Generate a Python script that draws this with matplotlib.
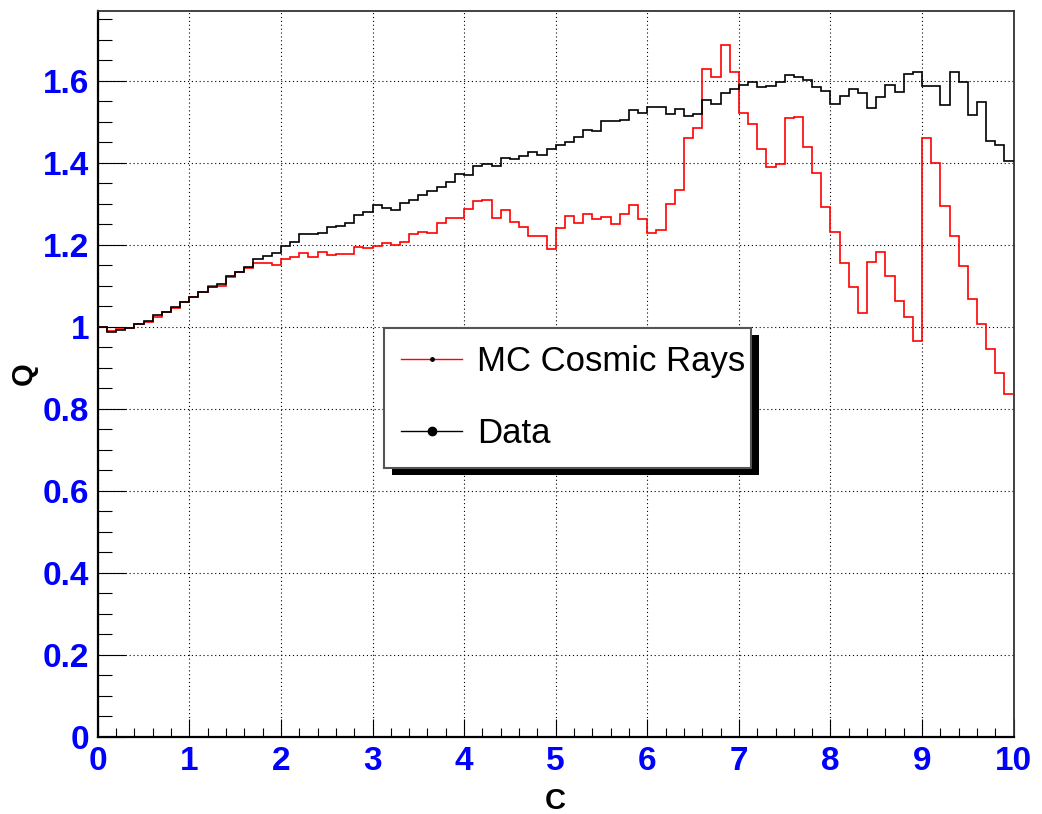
import numpy as np
import matplotlib
matplotlib.use("Agg")
import matplotlib.pyplot as plt
from matplotlib.ticker import MultipleLocator, FuncFormatter
from matplotlib.lines import Line2D
import matplotlib.patheffects as pe

# 100 bins of width 0.1 between 0 and 10
bin_edges = np.linspace(0, 10, 101)

mc_cosmic = [
    1.000, 0.990, 0.995, 0.997, 1.007, 1.011, 1.023, 1.035, 1.046, 1.061,
    1.072, 1.085, 1.100, 1.100, 1.120, 1.133, 1.144, 1.155, 1.155, 1.151,
    1.165, 1.170, 1.180, 1.170, 1.181, 1.176, 1.178, 1.178, 1.195, 1.191,
    1.198, 1.205, 1.200, 1.207, 1.225, 1.230, 1.229, 1.252, 1.264, 1.264,
    1.287, 1.306, 1.309, 1.266, 1.285, 1.256, 1.243, 1.222, 1.220, 1.190,
    1.240, 1.269, 1.254, 1.275, 1.263, 1.267, 1.250, 1.275, 1.298, 1.263,
    1.228, 1.235, 1.299, 1.333, 1.459, 1.485, 1.629, 1.610, 1.687, 1.620,
    1.521, 1.495, 1.434, 1.390, 1.398, 1.509, 1.512, 1.438, 1.374, 1.291,
    1.232, 1.156, 1.098, 1.033, 1.157, 1.181, 1.124, 1.062, 1.024, 0.965,
    1.461, 1.399, 1.294, 1.220, 1.149, 1.068, 1.007, 0.946, 0.887, 0.835,
]

data = [
    1.000, 0.986, 0.991, 0.997, 1.007, 1.015, 1.028, 1.035, 1.047, 1.061,
    1.072, 1.085, 1.097, 1.104, 1.123, 1.134, 1.145, 1.164, 1.173, 1.180,
    1.197, 1.206, 1.225, 1.225, 1.229, 1.242, 1.246, 1.253, 1.273, 1.280,
    1.296, 1.289, 1.284, 1.302, 1.310, 1.320, 1.332, 1.340, 1.353, 1.373,
    1.370, 1.391, 1.397, 1.393, 1.412, 1.410, 1.416, 1.426, 1.419, 1.434,
    1.444, 1.451, 1.463, 1.480, 1.477, 1.502, 1.502, 1.503, 1.528, 1.520,
    1.535, 1.537, 1.519, 1.532, 1.515, 1.519, 1.554, 1.544, 1.571, 1.580,
    1.589, 1.598, 1.585, 1.586, 1.598, 1.615, 1.609, 1.602, 1.585, 1.576,
    1.542, 1.562, 1.580, 1.571, 1.533, 1.559, 1.589, 1.572, 1.617, 1.620,
    1.588, 1.586, 1.540, 1.622, 1.597, 1.517, 1.547, 1.453, 1.443, 1.405,
]

labels = ["MC Cosmic Rays", "Data"]

plt.rcParams['font.family'] = ['Liberation Sans', 'DejaVu Sans']

fig = plt.figure(figsize=(10.42, 8.14), dpi=100)
ax = fig.add_axes([0.0938, 0.0950, 0.8790, 0.8915])

ax.stairs(mc_cosmic, bin_edges, baseline=None, color='#ff0000', linewidth=1.2, zorder=3)
ax.stairs(data, bin_edges, baseline=None, color='black', linewidth=1.2, zorder=3.1)

ax.set_xlim(0, 10)
ax.set_ylim(0, 1.77)

ax.xaxis.set_major_locator(MultipleLocator(1))
ax.xaxis.set_minor_locator(MultipleLocator(0.2))
ax.yaxis.set_major_locator(MultipleLocator(0.2))
ax.yaxis.set_minor_locator(MultipleLocator(0.05))
ax.yaxis.set_major_formatter(FuncFormatter(lambda v, p: "%g" % round(v, 2)))
ax.xaxis.set_major_formatter(FuncFormatter(lambda v, p: "%g" % round(v, 2)))

ax.grid(True, which='major', color='black', linewidth=0.8, linestyle=(0, (1, 2.5)))

ax.tick_params(axis='both', which='both', direction='in', colors='black',
               labelcolor='#0000ff', labelsize=24, width=0.8)
ax.tick_params(axis='y', which='major', length=20, pad=6)
ax.tick_params(axis='y', which='minor', length=10)
ax.tick_params(axis='x', which='major', length=13, pad=7)
ax.tick_params(axis='x', which='minor', length=6.5)
for lab in ax.get_xticklabels() + ax.get_yticklabels():
    lab.set_fontweight('bold')

for side in ['left', 'bottom']:
    ax.spines[side].set_linewidth(1.6)
for side in ['top', 'right']:
    ax.spines[side].set_linewidth(1.3)
    ax.spines[side].set_color('#333333')

ax.set_xlabel("C", fontsize=21, fontweight='bold')
ax.set_ylabel("Q", fontsize=21, fontweight='bold')
ax.xaxis.set_label_coords(0.5, -0.070)
ax.yaxis.set_label_coords(-0.066, 0.5)

handles = [
    Line2D([], [], color='#ff0000', linewidth=1.0, marker='o', markersize=2.5,
           markerfacecolor='black', markeredgecolor='black'),
    Line2D([], [], color='black', linewidth=1.0, marker='o', markersize=6,
           markerfacecolor='black', markeredgecolor='black'),
]
leg = ax.legend(handles, labels, loc='upper left',
                bbox_to_anchor=(0.3123, 0.0, 0.4007, 0.5637), mode='expand',
                borderaxespad=0, fontsize=25, frameon=True, fancybox=False,
                framealpha=1, edgecolor='#555555', handlelength=1.75,
                handletextpad=0.43, borderpad=0.5, labelspacing=1.13)
leg.get_frame().set_linewidth(1.5)
leg.get_frame().set_path_effects([
    pe.SimplePatchShadow(offset=(5.8, -5.2), shadow_rgbFace='black', alpha=1.0),
    pe.Normal(),
])
leg.set_zorder(10)

fig.savefig("out.png", dpi=100)
